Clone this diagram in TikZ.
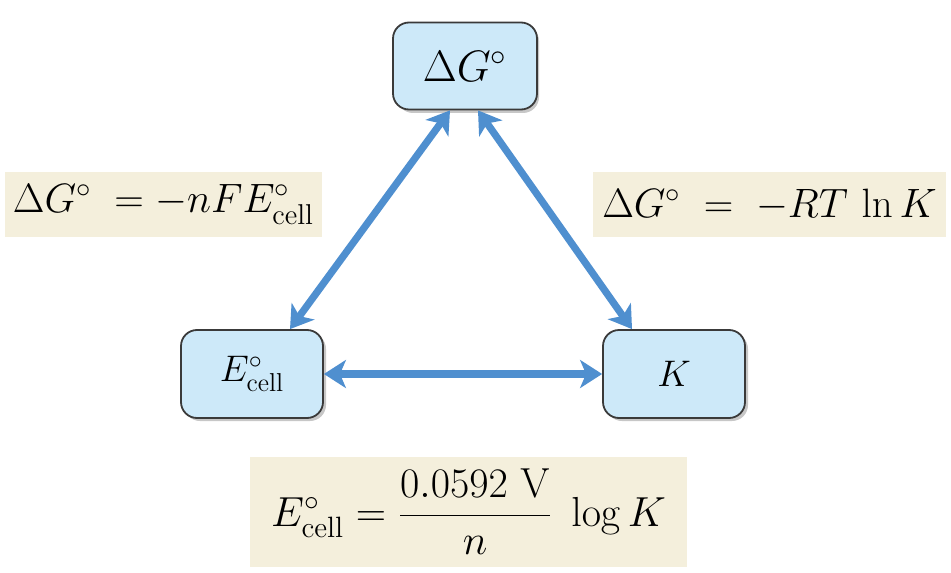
\RequirePackage{fix-cm}
\documentclass[tikz,border=0pt]{standalone}
\usepackage{amsmath}
\usetikzlibrary{arrows.meta,calc}
\definecolor{boxfill}{HTML}{CDE9F9}
\definecolor{boxline}{HTML}{3A3A3A}
\definecolor{arrowblue}{HTML}{4F8FCF}
\definecolor{beige}{HTML}{F4EFDC}
\tikzset{
  quantity/.style={draw=boxline, line width=0.9pt, fill=boxfill, rounded corners=8pt,
    minimum width=71pt, minimum height=44pt, inner sep=0pt, align=center},
  shadowbox/.style={fill=black!22, rounded corners=8pt, minimum width=71pt, minimum height=44pt, inner sep=0pt},
  formula/.style={fill=beige, inner sep=0pt},
  link/.style={draw=arrowblue, line width=3.6pt,
    {Stealth[length=11pt,width=14pt,inset=3pt]}-{Stealth[length=11pt,width=14pt,inset=3pt]}},
}
\begin{document}
\begin{tikzpicture}[x=0.5pt,y=-0.5pt]
\useasboundingbox (0,0) rectangle (951,572);
% formula backgrounds
\node[formula, minimum width=158.5pt, minimum height=32.5pt] (fl) at (163.5,204.5)
  {\fontsize{20.5}{24}\selectfont $\Delta G^\circ \;=-nFE^\circ_{\mathrm{cell}}$};
\node[formula, minimum width=176.5pt, minimum height=32.5pt] (fr) at (769.5,204.5)
  {\fontsize{20.5}{24}\selectfont $\Delta G^\circ \;=\; -RT\,\ln K$};
\node[formula, minimum width=218.5pt, minimum height=55pt] (fb) at (468.5,512)
  {\fontsize{21}{25}\selectfont $E^\circ_{\mathrm{cell}} = \dfrac{0.0592\ \mathrm{V}}{n}\;\log K$};
% shadows
\node[shadowbox] at (468,69) {};
\node[shadowbox] at (255,377) {};
\node[shadowbox] at (677,377) {};
% quantity boxes
\node[quantity, minimum width=72pt, minimum height=43.5pt] (g) at (465,66)
  {\fontsize{22}{26}\selectfont $\Delta G^\circ$};
\node[quantity] (e) at (252,374)
  {\fontsize{18.5}{22}\selectfont $E^\circ_{\mathrm{cell}}$};
\node[quantity] (k) at (674,374)
  {\fontsize{18.5}{22}\selectfont $K$};
% connectors
\draw[link] ($(e.north)+(38,0)$) -- ($(g.south)+(-15,0)$);
\draw[link] ($(g.south)+(13,0)$) -- ($(k.north)+(-42,0)$);
\draw[link] (e.east) -- (k.west);
\end{tikzpicture}
\end{document}
